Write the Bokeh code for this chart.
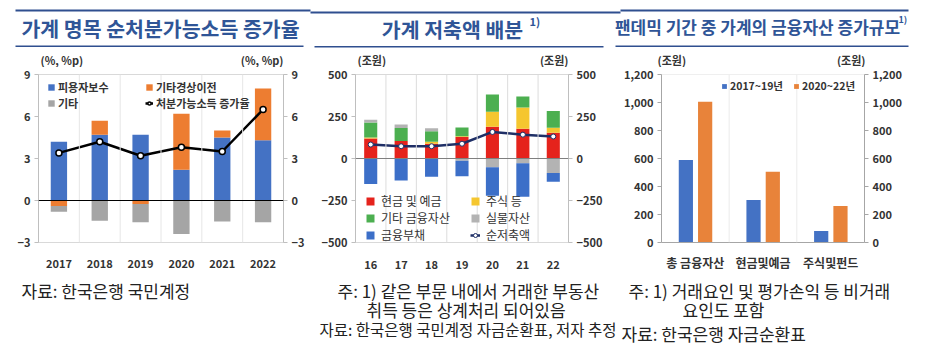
from bokeh.plotting import figure
from bokeh.models import (FactorRange, Range1d, LinearAxis, FixedTicker, Span,
                          Legend, LegendItem, NumeralTickFormatter, ColumnDataSource)
from bokeh.layouts import row, column
from bokeh.transform import dodge
from bokeh.core.properties import value
from bokeh.embed import file_html
from bokeh.resources import INLINE
import numpy as np

FONT = "Noto Sans CJK KR"
TITLE_COLOR = "#2F5597"
RULE_COLOR = "#2F4F8F"
TXT = "#333333"

# ---------------- data: panel 1 ----------------
years1 = ["2017", "2018", "2019", "2020", "2021", "2022"]
comp1 = [4.2, 4.7, 4.7, 2.2, 4.5, 4.3]          # 피용자보수
transfer1 = [-0.4, 1.0, -0.25, 4.0, 0.5, 3.7]   # 기타경상이전
other1 = [-0.4, -1.45, -1.3, -2.4, -1.5, -1.55]  # 기타
growth1 = [3.4, 4.2, 3.2, 3.8, 3.5, 6.5]        # 처분가능소득 증가율
ticks1 = [-3, 0, 3, 6, 9]

# ---------------- data: panel 2 ----------------
years2 = ["16", "17", "18", "19", "20", "21", "22"]
cash2 = [119, 104, 88, 128, 189, 177, 154]       # 현금 및 예금
stock2 = [6, 0, 12, 4, 90, 127, 29]              # 주식 등
otherfin2 = [90, 78, 62, 53, 102, 65, 100]       # 기타 금융자산
real2 = [15, 20, 18, -13, -52, -29, -87]         # 실물자산
liab2 = [-152, -131, -108, -93, -169, -198, -52]  # 금융부채
net2 = [83, 73, 73, 88, 158, 142, 131]           # 순저축액
ticks2 = [-500, -250, 0, 250, 500]

# ---------------- data: panel 3 ----------------
cats3 = ["총 금융자산", "현금및예금", "주식및펀드"]
pre3 = [590, 303, 82]      # 2017~19년
post3 = [1005, 506, 261]   # 2020~22년
ticks3 = [0, 200, 400, 600, 800, 1000, 1200]

# ---------------- texts ----------------
titles = ["가계 명목 순처분가능소득 증가율", "가계 저축액 배분", "팬데믹 기간 중 가계의 금융자산 증가규모"]
units = ["(%, %p)", "(조원)", "(조원)"]
notes1 = ["자료: 한국은행 국민계정"]
notes2 = ["주: 1) 같은 부문 내에서 거래한 부동산", "취득 등은 상계처리 되어있음",
          "자료: 한국은행 국민계정 자금순환표, 저자 추정"]
notes3 = ["주: 1) 거래요인 및 평가손익 등 비거래", "요인도 포함", "자료: 한국은행 자금순환표"]

W, H = 938, 352
TOP_H = 67
BOT_Y = 275


def stack(series_list):
    n = len(series_list[0])
    pos = np.zeros(n)
    neg = np.zeros(n)
    out = []
    for vals in series_list:
        v = np.array(vals, dtype=float)
        bottom = np.where(v >= 0, pos, neg)
        top = bottom + v
        pos = np.where(v >= 0, top, pos)
        neg = np.where(v < 0, top, neg)
        out.append((bottom, top))
    return out


def blank_fig(w, h, y0, y1):
    p = figure(width=w, height=h, x_range=Range1d(0, w), y_range=Range1d(y1, y0),
               output_backend="svg", toolbar_location=None, x_axis_type=None, y_axis_type=None,
               min_border=0, min_border_left=0, min_border_right=0, min_border_top=0,
               min_border_bottom=0)
    p.outline_line_color = None
    p.xgrid.visible = False
    p.ygrid.visible = False
    p.background_fill_color = "white"
    p.border_fill_color = "white"
    return p


def txt(p, x, y, s, size="15px", style="normal", color="#222222", align="left"):
    p.text(x=[x], y=[y], text=[s], text_font=value(FONT), text_font_size=value(size),
           text_font_style=value(style), text_color=color, text_align=value(align),
           text_baseline=value("middle"))


def make_fig(w, h, xr, yr, bl, br, bt, bb):
    p = figure(width=w, height=h, x_range=xr, y_range=yr, output_backend="svg",
               toolbar_location=None, min_border_left=bl, min_border_right=br,
               min_border_top=bt, min_border_bottom=bb)
    p.background_fill_color = "white"
    p.border_fill_color = "white"
    p.outline_line_color = "#D9D9D9"
    p.xgrid.visible = False
    p.ygrid.visible = False
    return p


def style_y(ax, ticks, fmt=None, line_color="#BFBFBF"):
    ax.ticker = FixedTicker(ticks=ticks)
    ax.minor_tick_line_color = None
    ax.major_tick_in = 0
    ax.major_tick_out = 4
    ax.major_tick_line_color = line_color
    ax.axis_line_color = line_color
    ax.major_label_standoff = 4
    ax.major_label_text_font = FONT
    ax.major_label_text_font_style = "bold"
    ax.major_label_text_font_size = "11px"
    ax.major_label_text_color = TXT
    if fmt is not None:
        ax.formatter = fmt


def style_x(ax, standoff, size="11px"):
    ax.major_tick_line_color = None
    ax.minor_tick_line_color = None
    ax.axis_line_color = None
    ax.major_label_standoff = standoff
    ax.major_label_text_font = FONT
    ax.major_label_text_font_style = "bold"
    ax.major_label_text_font_size = size
    ax.major_label_text_color = TXT


def style_legend(lg, size="11px", style="bold", lh=13, spacing=0):
    lg.background_fill_alpha = 0
    lg.border_line_color = None
    lg.padding = 0
    lg.margin = 0
    lg.spacing = spacing
    lg.glyph_width = 8
    lg.glyph_height = 8
    lg.label_height = lh
    lg.label_standoff = 3
    lg.label_text_font = FONT
    lg.label_text_font_size = size
    lg.label_text_font_style = style
    lg.label_text_color = TXT


CH = BOT_Y - TOP_H   # chart figure height

# ================= Top strip (titles, rules, units) =================
top = blank_fig(W, TOP_H, 0, TOP_H)
top.quad(left=[15, 310, 620], right=[310, 620, 908], top=[9, 11, 9], bottom=[11, 13, 11],
         fill_color=RULE_COLOR, line_color=None)
top.quad(left=[15, 314, 615], right=[303, 603, 908], top=[45, 45.5, 45], bottom=[46.5, 47, 46.5],
         fill_color=RULE_COLOR, line_color=None)
txt(top, 160, 27.5, titles[0], size="20.5px", style="bold", color=TITLE_COLOR, align="center")
txt(top, 452, 28, titles[1], size="20.5px", style="bold", color=TITLE_COLOR, align="center")
txt(top, 529, 20, "1)", size="11px", style="bold", color=TITLE_COLOR)
txt(top, 757, 26, titles[2], size="17px", style="bold", color=TITLE_COLOR, align="center")
txt(top, 898, 19, "1)", size="9px", style="bold", color=TITLE_COLOR)
txt(top, 40, 59, units[0], size="11px", style="bold", color=TXT)
txt(top, 283, 59, units[0], size="11px", style="bold", color=TXT, align="right")
txt(top, 357, 59, units[1], size="11px", style="bold", color=TXT)
txt(top, 568, 59, units[1], size="11px", style="bold", color=TXT, align="right")
txt(top, 657, 59, units[2], size="11px", style="bold", color=TXT)
txt(top, 865, 59, units[2], size="11px", style="bold", color=TXT, align="right")

# ================= Panel 1 =================
p1 = make_fig(310, CH, FactorRange(factors=years1, range_padding=0), Range1d(-3, 9),
              38, 27, 74 - TOP_H, BOT_Y - 248)
st1 = stack([comp1, transfer1, other1])
cols1 = ["#4472C4", "#ED7D31", "#A5A5A5"]
rends1 = []
for (b, t), c in zip(st1, cols1):
    src = ColumnDataSource(dict(x=years1, bottom=b, top=t))
    rends1.append(p1.vbar(x="x", bottom="bottom", top="top", width=0.4, source=src,
                          fill_color=c, line_color=None))
for i in range(1, len(years1)):
    p1.add_layout(Span(location=i, dimension="height", line_color="#E6E6E6", line_width=1))
p1.add_layout(Span(location=0, dimension="width", line_color="#000000", line_width=1))
ln1 = p1.line(years1, growth1, line_color="black", line_width=2.5)
sc1 = p1.scatter(years1, growth1, size=6, fill_color="white", line_color="black", line_width=1.5)
style_y(p1.yaxis[0], ticks1)
ra1 = LinearAxis()
p1.add_layout(ra1, "right")
style_y(ra1, ticks1)
style_x(p1.xaxis[0], 10)
lg1a = Legend(items=[LegendItem(label="피용자보수", renderers=[rends1[0]]),
                     LegendItem(label="기타", renderers=[rends1[2]])], location=(9, 131))
lg1b = Legend(items=[LegendItem(label="기타경상이전", renderers=[rends1[1]]),
                     LegendItem(label="처분가능소득 증가율", renderers=[ln1, sc1])], location=(107, 131))
for lg in (lg1a, lg1b):
    style_legend(lg, spacing=-3)
    p1.add_layout(lg)

# ================= Panel 2 =================
p2 = make_fig(310, CH, FactorRange(factors=years2, range_padding=0), Range1d(-500, 500),
              45, 52, 74 - TOP_H, BOT_Y - 247)
st2 = stack([cash2, stock2, otherfin2, real2, liab2])
cols2 = ["#E5231C", "#F5C62F", "#4CAF50", "#B3B3B3", "#3C6FC8"]
rends2 = []
for (b, t), c in zip(st2, cols2):
    src = ColumnDataSource(dict(x=years2, bottom=b, top=t))
    rends2.append(p2.vbar(x="x", bottom="bottom", top="top", width=0.43, source=src,
                          fill_color=c, line_color=None))
for i in range(1, len(years2)):
    p2.add_layout(Span(location=i, dimension="height", line_color="#DCDCDC", line_width=1))
p2.add_layout(Span(location=0, dimension="width", line_color="#7F7F7F", line_width=1))
ln2 = p2.line(years2, net2, line_color="#1F2F66", line_width=2.5)
sc2 = p2.scatter(years2, net2, size=5, fill_color="white", line_color="#1F2F66", line_width=1)
style_y(p2.yaxis[0], ticks2)
ra2 = LinearAxis()
p2.add_layout(ra2, "right")
style_y(ra2, ticks2)
style_x(p2.xaxis[0], 11)
lg2a = Legend(items=[LegendItem(label="현금 및 예금", renderers=[rends2[0]]),
                     LegendItem(label="기타 금융자산", renderers=[rends2[2]]),
                     LegendItem(label="금융부채", renderers=[rends2[4]])], location=(10, -1))
lg2b = Legend(items=[LegendItem(label="주식 등", renderers=[rends2[1]]),
                     LegendItem(label="실물자산", renderers=[rends2[3]]),
                     LegendItem(label="순저축액", renderers=[ln2, sc2])], location=(115, -1))
for lg in (lg2a, lg2b):
    style_legend(lg, size="12px", style="normal", lh=15, spacing=-1)
    lg.glyph_width = 10
    lg.glyph_height = 10
    lg.label_standoff = 6
    p2.add_layout(lg)

# ================= Panel 3 =================
p3 = make_fig(318, CH, FactorRange(factors=cats3, range_padding=0), Range1d(0, 1200),
              37, 74, 72 - TOP_H, BOT_Y - 242)
src3 = ColumnDataSource(dict(x=cats3, pre=pre3, post=post3))
r3a = p3.vbar(x=dodge("x", -0.14, range=p3.x_range), top="pre", width=0.21, source=src3,
              fill_color="#4472C4", line_color=None)
r3b = p3.vbar(x=dodge("x", 0.145, range=p3.x_range), top="post", width=0.21, source=src3,
              fill_color="#E8833A", line_color=None)
for i in range(1, len(cats3)):
    p3.add_layout(Span(location=i, dimension="height", line_color="#EBEBEB", line_width=1))
p3.outline_line_color = "#EFEFEF"
style_y(p3.yaxis[0], ticks3, NumeralTickFormatter(format="0,0"), line_color="#A6A6A6")
ra3 = LinearAxis()
p3.add_layout(ra3, "right")
style_y(ra3, ticks3, NumeralTickFormatter(format="0,0"), line_color="#A6A6A6")
style_x(p3.xaxis[0], 5, size="12px")
p3.xaxis[0].axis_line_color = "#A6A6A6"
lg3 = Legend(items=[LegendItem(label="2017~19년", renderers=[r3a]),
                    LegendItem(label="2020~22년", renderers=[r3b])],
             location=(60, 149), orientation="horizontal")
style_legend(lg3, size="10.5px")
lg3.spacing = 10
lg3.glyph_width = 6
lg3.glyph_height = 6
p3.add_layout(lg3)

# ================= Bottom strip (notes) =================
bot = blank_fig(W, H - BOT_Y, BOT_Y, H)
txt(bot, 21, 290, notes1[0], size="17px")
txt(bot, 337, 290, notes2[0], size="17px")
txt(bot, 366, 309, notes2[1], size="17px")
txt(bot, 319, 328, notes2[2], size="15.5px")
txt(bot, 628, 290, notes3[0], size="17px")
txt(bot, 682, 309, notes3[1], size="17px")
txt(bot, 621, 333, notes3[2], size="17px")

layout = column(top, row(p1, p2, p3, spacing=0), bot, spacing=0)
open("out.html", "w").write(file_html(layout, INLINE))
